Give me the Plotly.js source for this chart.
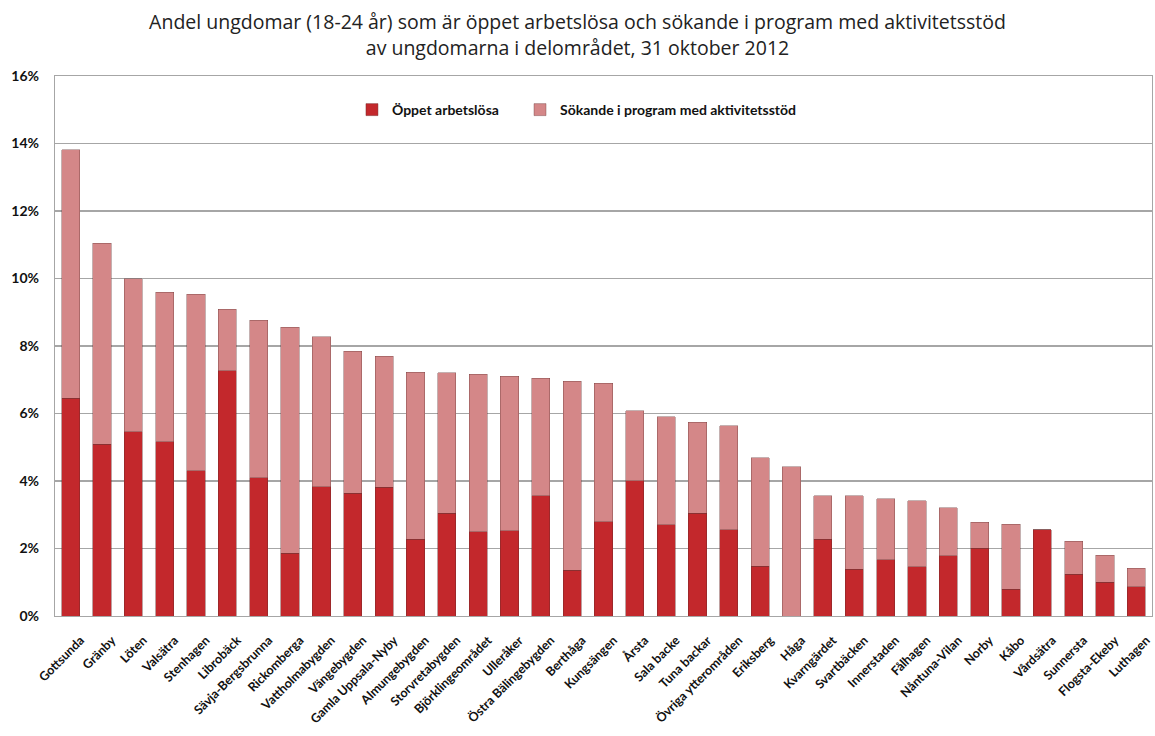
<!DOCTYPE html>
<html>
<head>
<meta charset="utf-8">
<script src="https://cdn.plot.ly/plotly-3.0.1.min.js"></script>
<style>html,body{margin:0;padding:0;background:#fff;}#chart{width:1155px;height:736px;}</style>
</head>
<body>
<div id="chart"></div>
<script>
const categories = ["Gottsunda","Gränby","Löten","Valsätra","Stenhagen","Librobäck","Sävja-Bergsbrunna","Rickomberga","Vattholmabygden","Vängebygden","Gamla Uppsala-Nyby","Almungebygden","Storvretabygden","Björklingeområdet","Ulleråker","Östra Bälingebygden","Berthåga","Kungsängen","Årsta","Sala backe","Tuna backar","Övriga ytterområden","Eriksberg","Håga","Kvarngärdet","Svartbäcken","Innerstaden","Fålhagen","Nåntuna-Vilan","Norby","Kåbo","Vårdsätra","Sunnersta","Flogsta-Ekeby","Luthagen"];
const oppetArbetslosa = [6.45,5.09,5.46,5.17,4.30,7.26,4.10,1.86,3.83,3.63,3.81,2.27,3.04,2.50,2.53,3.56,1.36,2.79,4.01,2.70,3.04,2.55,1.48,0.00,2.27,1.38,1.66,1.46,1.78,2.01,0.79,2.55,1.23,1.00,0.87];
const sokandeProgram = [7.36,5.95,4.54,4.42,5.24,1.83,4.66,6.70,4.44,4.22,3.89,4.95,4.17,4.66,4.58,3.48,5.60,4.10,2.07,3.21,2.70,3.08,3.21,4.42,1.29,2.18,1.81,1.95,1.43,0.77,1.93,0.00,0.99,0.80,0.55];
const yTicks = [0,0.02,0.04,0.06,0.08,0.10,0.12,0.14,0.16];

const pct = a => a.map(v => v/100);

const traces = [
  {type:'bar', name:'Öppet arbetslösa', x:categories, y:pct(oppetArbetslosa), legend:'legend',
   marker:{color:'#c3282c', line:{color:'rgba(110,40,40,0.55)', width:0.8}}},
  {type:'bar', name:'Sökande i program med aktivitetsstöd', x:categories, y:pct(sokandeProgram), legend:'legend2',
   marker:{color:'#d48788', line:{color:'rgba(110,60,60,0.5)', width:0.8}}}
];

const legFont = {family:'Lato, sans-serif', size:14, color:'#111', weight:'bold'};

const layout = {
  width:1155, height:736,
  margin:{l:55, r:3, t:76, b:120},
  paper_bgcolor:'#fff', plot_bgcolor:'#fff',
  barmode:'stack', bargap:0.42,
  showlegend:true,
  title:{text:'Andel ungdomar (18-24 år) som är öppet arbetslösa och sökande i program med aktivitetsstöd<br>av ungdomarna i delområdet, 31 oktober 2012',
    font:{family:'"Open Sans", sans-serif', size:19.5, color:'#222'},
    x:0.5, xanchor:'center', xref:'container', yref:'container', y:0.96, yanchor:'middle'},
  legend:{x:0.2707, xanchor:'left', y:0.937, yanchor:'middle', font:legFont,
    bgcolor:'rgba(0,0,0,0)', itemwidth:30},
  legend2:{x:0.4239, xanchor:'left', y:0.937, yanchor:'middle', font:legFont,
    bgcolor:'rgba(0,0,0,0)', itemwidth:30},
  xaxis:{type:'category', tickangle:-45, showgrid:false, ticks:'', ticklabelstandoff:11, ticklabelshift:10,
    tickfont:{family:'Lato, sans-serif', size:12.5, color:'#111', weight:'bold'},
    showline:true, linecolor:'#a6a6a6', linewidth:1.2, mirror:true},
  yaxis:{range:[0,0.16], tickvals:yTicks, tickformat:'.0%', showgrid:true,
    gridcolor:'#a6a6a6', gridwidth:1.2, zeroline:false, ticks:'', ticklabelstandoff:12,
    tickfont:{family:'Lato, sans-serif', size:14, color:'#111', weight:'bold'},
    showline:true, linecolor:'#a6a6a6', linewidth:1.2, mirror:true}
};

Plotly.newPlot('chart', traces, layout, {displayModeBar:false, staticPlot:true});
</script>
</body>
</html>
